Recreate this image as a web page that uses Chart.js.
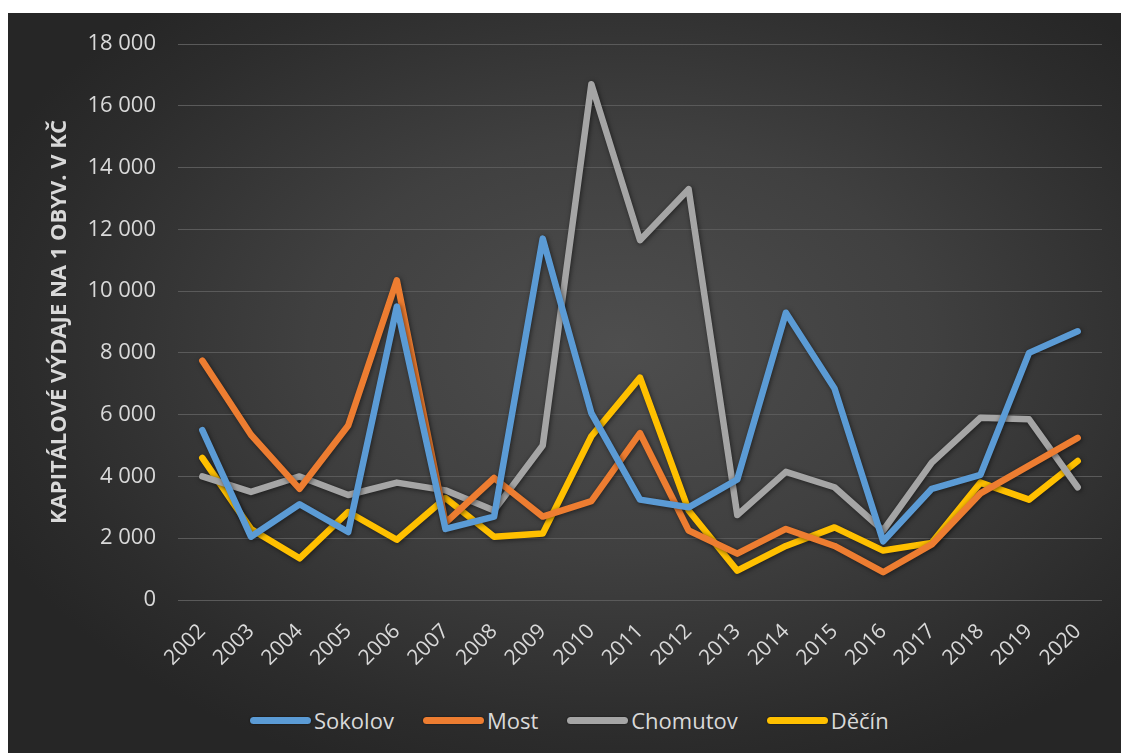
<!DOCTYPE html>
<html>
<head>
<meta charset="utf-8">
<script src="https://cdn.jsdelivr.net/npm/chart.js@4.4.1/dist/chart.umd.min.js"></script>
<style>
  html, body { margin: 0; padding: 0; background: #ffffff; width: 1121px; height: 753px; overflow: hidden; }
  #bg { position: absolute; left: 8px; top: 13px; width: 1113px; height: 740px;
        background: radial-gradient(ellipse 62% 62% at 55% 45%, #4e4e4e 0%, #404040 45%, #2c2c2c 85%, #262626 100%); }
  #c { position: absolute; left: 0; top: 0; }
  #legend { position: absolute; left: 250px; top: 706px; height: 28px; display: flex; align-items: center;
            font-family: "Open Sans", sans-serif; font-size: 22px; color: #d9d9d9; white-space: nowrap; }
  .item { display: flex; align-items: center; margin-right: 29px; }
  .sw { width: 61px; height: 7px; border-radius: 4px; margin-right: 3px; box-shadow: 0 0 2px rgba(0,0,0,0.7); }
</style>
</head>
<body>
<div id="bg"></div>
<canvas id="c" width="1121" height="690"></canvas>
<div id="legend"></div>
<script>
const years = ["2002","2003","2004","2005","2006","2007","2008","2009","2010","2011","2012","2013","2014","2015","2016","2017","2018","2019","2020"];
const sokolov  = [5500, 2050, 3100, 2200, 9500, 2300, 2700, 11700, 6050, 3250, 3000, 3900, 9300, 6850, 1900, 3600, 4050, 8000, 8700];
const most     = [7750, 5350, 3600, 5650, 10350, 2500, 3950, 2700, 3200, 5400, 2250, 1500, 2300, 1750, 900, 1800, 3450, 4350, 5250];
const chomutov = [4000, 3500, 4000, 3400, 3800, 3550, 2900, 5000, 16700, 11650, 13300, 2750, 4150, 3650, 2250, 4450, 5900, 5850, 3650];
const decin    = [4600, 2300, 1350, 2850, 1950, 3300, 2050, 2150, 5300, 7200, 2900, 950, 1750, 2350, 1600, 1850, 3800, 3250, 4500];
const seriesNames = ["Sokolov", "Most", "Chomutov", "Děčín"];
const seriesColors = ["#5B9BD5", "#ED7D31", "#A5A5A5", "#FFC000"];
const yTitle = "KAPITÁLOVÉ VÝDAJE NA 1 OBYV. V KČ";
const yMin = 0, yMax = 18000, yStep = 2000;

const seriesData = [sokolov, most, chomutov, decin];
const datasets = seriesNames.map((n, i) => ({
  label: n,
  data: seriesData[i],
  borderColor: seriesColors[i],
  backgroundColor: seriesColors[i],
  borderWidth: 6.5,
  borderCapStyle: 'round',
  borderJoinStyle: 'round',
  pointRadius: 0,
  pointHoverRadius: 0,
  tension: 0,
  fill: false
}));

const shadowPlugin = {
  id: 'lineShadow',
  beforeDatasetsDraw(chart) {
    const ctx = chart.ctx;
    ctx.save();
    ctx.shadowColor = 'rgba(0,0,0,0.55)';
    ctx.shadowBlur = 5;
    ctx.shadowOffsetX = 1;
    ctx.shadowOffsetY = 1;
  },
  afterDatasetsDraw(chart) {
    chart.ctx.restore();
  }
};

const fmt = v => String(v).replace(/\B(?=(\d{3})+(?!\d))/g, ' ');

const chart = new Chart(document.getElementById('c'), {
  type: 'line',
  data: { labels: years, datasets },
  options: {
    responsive: false,
    animation: false,
    events: [],
    layout: { padding: { left: 0, right: 19, top: 44, bottom: 0 } },
    plugins: { legend: { display: false }, tooltip: { enabled: false } },
    scales: {
      x: {
        offset: true,
        grid: { display: false, drawTicks: false },
        border: { display: false },
        ticks: {
          autoSkip: false, minRotation: 45, maxRotation: 45, padding: 19,
          color: '#d9d9d9', font: { family: 'Open Sans', size: 21 }
        },
        afterFit(scale) { scale.height = 90; }
      },
      y: {
        min: yMin, max: yMax,
        grid: { color: '#5a5a5a', lineWidth: 1, drawTicks: false },
        border: { display: false },
        ticks: {
          stepSize: yStep, padding: 22, color: '#d9d9d9',
          font: { family: 'Open Sans', size: 22 },
          callback: v => fmt(v)
        },
        title: {
          display: true, text: yTitle, color: '#d9d9d9',
          font: { family: 'Open Sans', size: 22, weight: 'bold' },
          padding: { top: 47, bottom: 0 }
        },
        afterFit(scale) { scale.width = 178; }
      }
    }
  },
  plugins: [shadowPlugin]
});

const legendEl = document.getElementById('legend');
chart.data.datasets.forEach(ds => {
  const item = document.createElement('div');
  item.className = 'item';
  const sw = document.createElement('span');
  sw.className = 'sw';
  sw.style.background = ds.borderColor;
  const tx = document.createElement('span');
  tx.textContent = ds.label;
  item.appendChild(sw);
  item.appendChild(tx);
  legendEl.appendChild(item);
});
</script>
</body>
</html>
